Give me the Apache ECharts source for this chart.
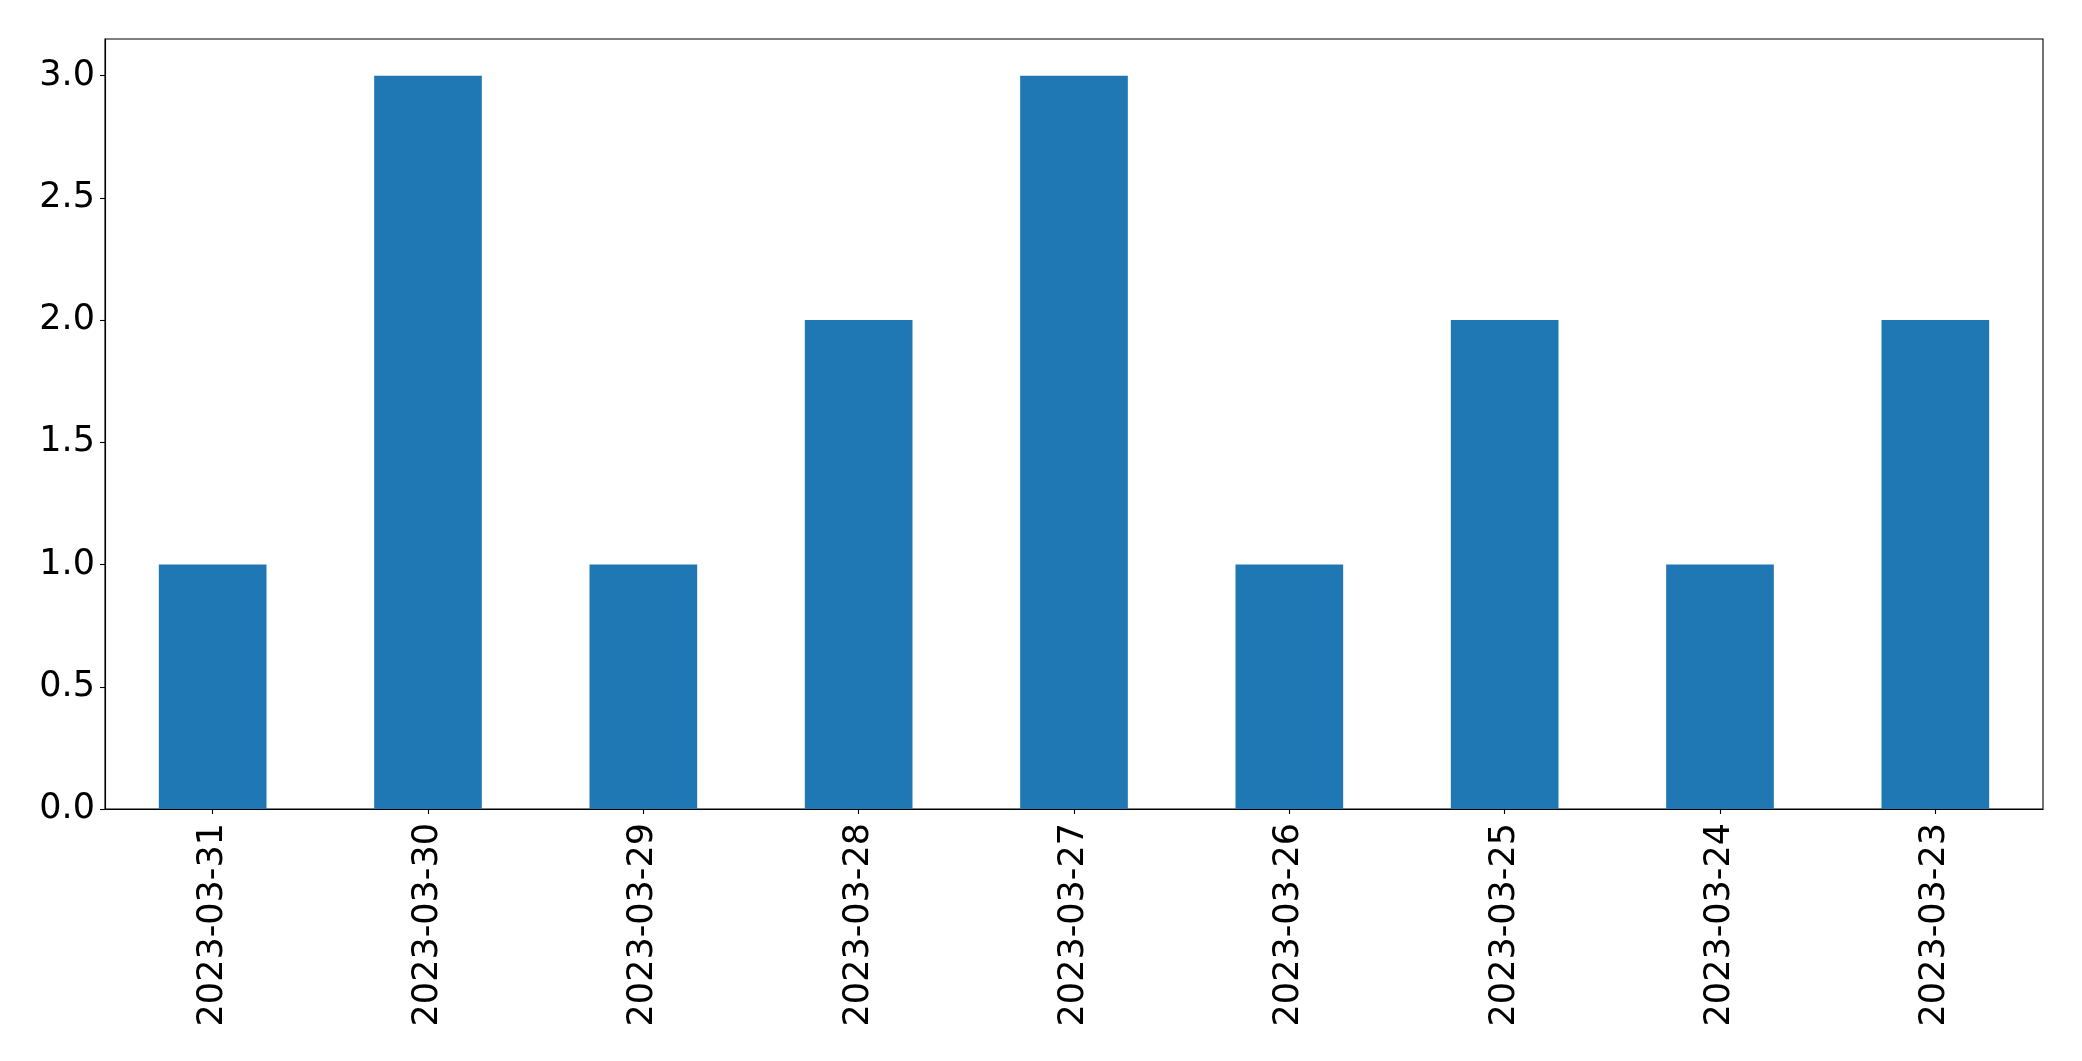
<!DOCTYPE html>
<html>
<head>
<meta charset="utf-8">
<script src="https://cdn.jsdelivr.net/npm/echarts@6/dist/echarts.min.js"></script>
<style>html,body{margin:0;padding:0;background:#fff}#c{width:2082px;height:1061px}</style>
</head>
<body>
<div id="c"></div>
<script>
const categories = ['2023-03-31','2023-03-30','2023-03-29','2023-03-28','2023-03-27','2023-03-26','2023-03-25','2023-03-24','2023-03-23'];
const values = [1, 3, 1, 2, 3, 1, 2, 1, 2];
const yTicks = [0, 0.5, 1.0, 1.5, 2.0, 2.5, 3.0];

const chart = echarts.init(document.getElementById('c'), null, {renderer: 'canvas'});
const font = 'DejaVu Sans';
chart.setOption({
  animation: false,
  backgroundColor: '#fff',
  grid: {left: 105, right: 39, top: 39, bottom: 252, show: true, borderColor: '#000', borderWidth: 1.1, backgroundColor: 'transparent', outerBoundsMode: 'none', containLabel: false},
  xAxis: {
    type: 'category', data: categories, boundaryGap: true,
    axisLine: {show: true, lineStyle: {color: '#000', width: 1.1}},
    axisTick: {show: true, alignWithLabel: true, length: 5, lineStyle: {color: '#000', width: 1.1}},
    axisLabel: {rotate: 90, fontSize: 35, fontFamily: font, color: '#000', margin: 14, interval: 0},
    splitLine: {show: false}
  },
  yAxis: {
    type: 'value', min: 0, max: 3.15,
    axisLine: {show: true, lineStyle: {color: '#000', width: 1.1}},
    axisTick: {show: true, length: 5, lineStyle: {color: '#000', width: 1.1}, customValues: yTicks},
    axisLabel: {fontSize: 35, fontFamily: font, color: '#000', margin: 10, customValues: yTicks, formatter: v => v.toFixed(1)},
    splitLine: {show: false}
  },
  series: [{type: 'bar', data: values, barWidth: '50%', itemStyle: {color: '#1f77b4'}}]
});
</script>
</body>
</html>
